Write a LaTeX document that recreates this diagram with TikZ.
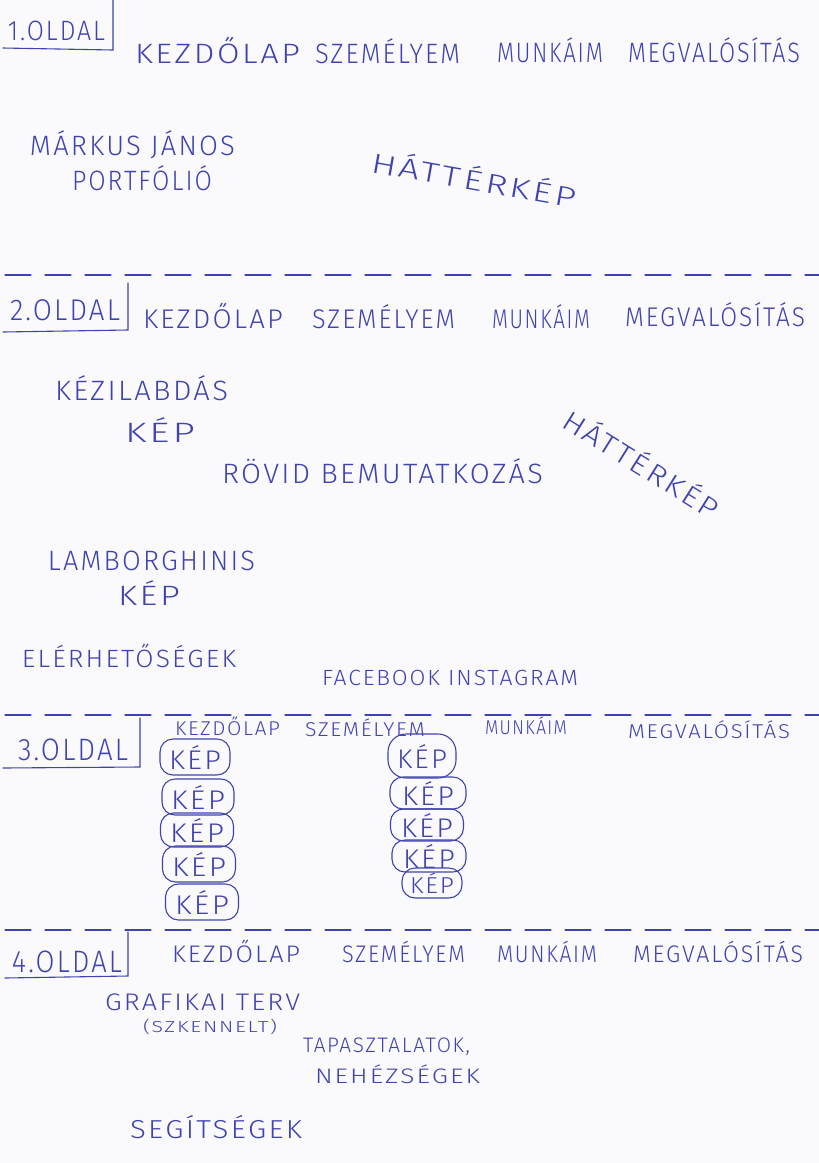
\documentclass[tikz,border=0pt]{standalone}
\usepackage{fontspec}
\usepackage{graphicx}
% thin pen-like lettering; fall back to a regular face if the light one is absent
\IfFontExistsTF{Fira Sans Light}
  {\newfontfamily\handfont{Fira Sans Light}[LetterSpace=8]}
  {\newfontfamily\handfont{Open Sans}[LetterSpace=8]}
\definecolor{ink}{RGB}{64,66,176}
\definecolor{paper}{RGB}{250,250,252}
% stretch a word horizontally to a given width (in pt), keeping its height
\newcommand\fitw[2]{\resizebox{#1pt}{\height}{#2}}

\tikzset{
  hand/.style={inner sep=0pt, outer sep=0pt, text=ink, anchor=base west},
  sz/.style={font=\handfont\fontsize{#1}{#1}\selectfont},
  pen/.style={draw=ink, line width=1.1pt, line cap=round},
  cut/.style={pen, dash pattern=on 26pt off 14pt},
  kepbox/.style={pen, rounded corners=13pt, inner sep=0pt, text=ink,
                 font=\handfont\fontsize{27}{27}\selectfont},
}

\begin{document}
\begin{tikzpicture}[x=1pt,y=-1pt]
\fill[paper] (0,0) rectangle (819,1163);
\useasboundingbox (0,0) rectangle (819,1163);

% ---------------- page 1 ----------------
\node[hand, sz=28] (o1) at (8,40) {\fitw{97}{1.OLDAL}};
\coordinate (o1top) at (113,0);
\coordinate (o1corner) at (113,50);
\coordinate (o1left) at (3,48);
\draw[pen] (o1top) -- (o1corner) -- (o1left);

\node[hand, sz=28] (m1a) at (135,63) {\fitw{165}{KEZDŐLAP}};
\node[hand, sz=28] (m1b) at (315,63) {\fitw{145}{SZEMÉLYEM}};
\node[hand, sz=28] (m1c) at (497,62) {\fitw{106}{MUNKÁIM}};
\node[hand, sz=28] (m1d) at (628,62) {\fitw{172}{MEGVALÓSÍTÁS}};

\node[hand, sz=28] (name) at (30,155) {\fitw{205}{MÁRKUS JÁNOS}};
\node[hand, sz=28] (portf) at (72,190) {\fitw{140}{PORTFÓLIÓ}};
\node[hand, sz=28, rotate=-10] (bg1) at (370,172) {\fitw{208}{HÁTTÉRKÉP}};

\coordinate (c1a) at (5,275);
\coordinate (c1b) at (819,275);
\draw[cut] (c1a) -- (c1b);

% ---------------- page 2 ----------------
\node[hand, sz=30] (o2) at (10,320) {\fitw{110}{2.OLDAL}};
\coordinate (o2top) at (128,283);
\coordinate (o2corner) at (128,330);
\coordinate (o2left) at (3,332);
\draw[pen] (o2top) -- (o2corner) -- (o2left);

\node[hand, sz=27] (m2a) at (143,328) {\fitw{140}{KEZDŐLAP}};
\node[hand, sz=27] (m2b) at (312,328) {\fitw{143}{SZEMÉLYEM}};
\node[hand, sz=27] (m2c) at (492,328) {\fitw{98}{MUNKÁIM}};
\node[hand, sz=27] (m2d) at (625,326) {\fitw{180}{MEGVALÓSÍTÁS}};

\node[hand, sz=28] (handball) at (55,400) {\fitw{173}{KÉZILABDÁS}};
\node[hand, sz=28] (hkep) at (125,442) {\fitw{70}{KÉP}};
\node[hand, sz=28] (intro) at (222,483) {\fitw{321}{RÖVID BEMUTATKOZÁS}};
\node[hand, sz=28, rotate=-32] (bg2) at (560,426) {\fitw{178}{HÁTTÉRKÉP}};

\node[hand, sz=28] (lambo) at (48,570) {\fitw{207}{LAMBORGHINIS}};
\node[hand, sz=28] (lkep) at (118,605) {\fitw{62}{KÉP}};
\node[hand, sz=25] (contact) at (22,667) {\fitw{214}{ELÉRHETŐSÉGEK}};
\node[hand, sz=22] (social) at (322,685) {\fitw{256}{FACEBOOK INSTAGRAM}};

\coordinate (c2a) at (5,715);
\coordinate (c2b) at (819,715);
\draw[cut] (c2a) -- (c2b);

% ---------------- page 3 ----------------
\node[hand, sz=31] (o3) at (18,760) {\fitw{110}{3.OLDAL}};
\coordinate (o3top) at (140,718);
\coordinate (o3corner) at (140,767);
\coordinate (o3left) at (3,768);
\draw[pen] (o3top) -- (o3corner) -- (o3left);

\node[hand, sz=20] (m3a) at (175,735) {\fitw{105}{KEZDŐLAP}};
\node[hand, sz=20] (m3b) at (305,736) {\fitw{120}{SZEMÉLYEM}};
\node[hand, sz=20] (m3c) at (485,734) {\fitw{82}{MUNKÁIM}};
\node[hand, sz=20] (m3d) at (628,738) {\fitw{162}{MEGVALÓSÍTÁS}};

% two columns of picture slots
\node[kepbox, minimum width=70pt, minimum height=36pt] (l1) at (195,757) {\fitw{52}{KÉP}};
\node[kepbox, minimum width=72pt, minimum height=36pt] (l2) at (198,797) {\fitw{54}{KÉP}};
\node[kepbox, minimum width=73pt, minimum height=34pt] (l3) at (197,830) {\fitw{54}{KÉP}};
\node[kepbox, minimum width=73pt, minimum height=36pt] (l4) at (199,864) {\fitw{54}{KÉP}};
\node[kepbox, minimum width=73pt, minimum height=36pt] (l5) at (202,902) {\fitw{54}{KÉP}};

\node[kepbox, minimum width=68pt, minimum height=44pt, rounded corners=18pt] (r1) at (422,756) {\fitw{50}{KÉP}};
\node[kepbox, minimum width=76pt, minimum height=32pt] (r2) at (428,793) {\fitw{52}{KÉP}};
\node[kepbox, minimum width=73pt, minimum height=32pt] (r3) at (427,825) {\fitw{52}{KÉP}};
\node[kepbox, minimum width=74pt, minimum height=32pt] (r4) at (429,856) {\fitw{52}{KÉP}};
\node[kepbox, minimum width=60pt, minimum height=30pt, font=\handfont\fontsize{23}{23}\selectfont] (r5) at (432,883) {\fitw{44}{KÉP}};

\coordinate (c3a) at (5,930);
\coordinate (c3b) at (819,930);
\draw[cut] (c3a) -- (c3b);

% ---------------- page 4 ----------------
\node[hand, sz=31] (o4) at (12,972) {\fitw{110}{4.OLDAL}};
\coordinate (o4top) at (128,932);
\coordinate (o4corner) at (128,976);
\coordinate (o4left) at (5,978);
\draw[pen] (o4top) -- (o4corner) -- (o4left);

\node[hand, sz=24] (m4a) at (172,962) {\fitw{128}{KEZDŐLAP}};
\node[hand, sz=24] (m4b) at (342,962) {\fitw{123}{SZEMÉLYEM}};
\node[hand, sz=24] (m4c) at (497,962) {\fitw{100}{MUNKÁIM}};
\node[hand, sz=24] (m4d) at (633,962) {\fitw{170}{MEGVALÓSÍTÁS}};

\node[hand, sz=24] (graf) at (105,1010) {\fitw{195}{GRAFIKAI TERV}};
\node[hand, sz=16] (scan) at (143,1032) {\fitw{134}{(SZKENNELT)}};
\node[hand, sz=21] (exp) at (303,1052) {\fitw{167}{TAPASZTALATOK,}};
\node[hand, sz=21] (diff) at (315,1083) {\fitw{165}{NEHÉZSÉGEK}};
\node[hand, sz=26] (help) at (130,1138) {\fitw{172}{SEGÍTSÉGEK}};
\end{tikzpicture}
\end{document}
